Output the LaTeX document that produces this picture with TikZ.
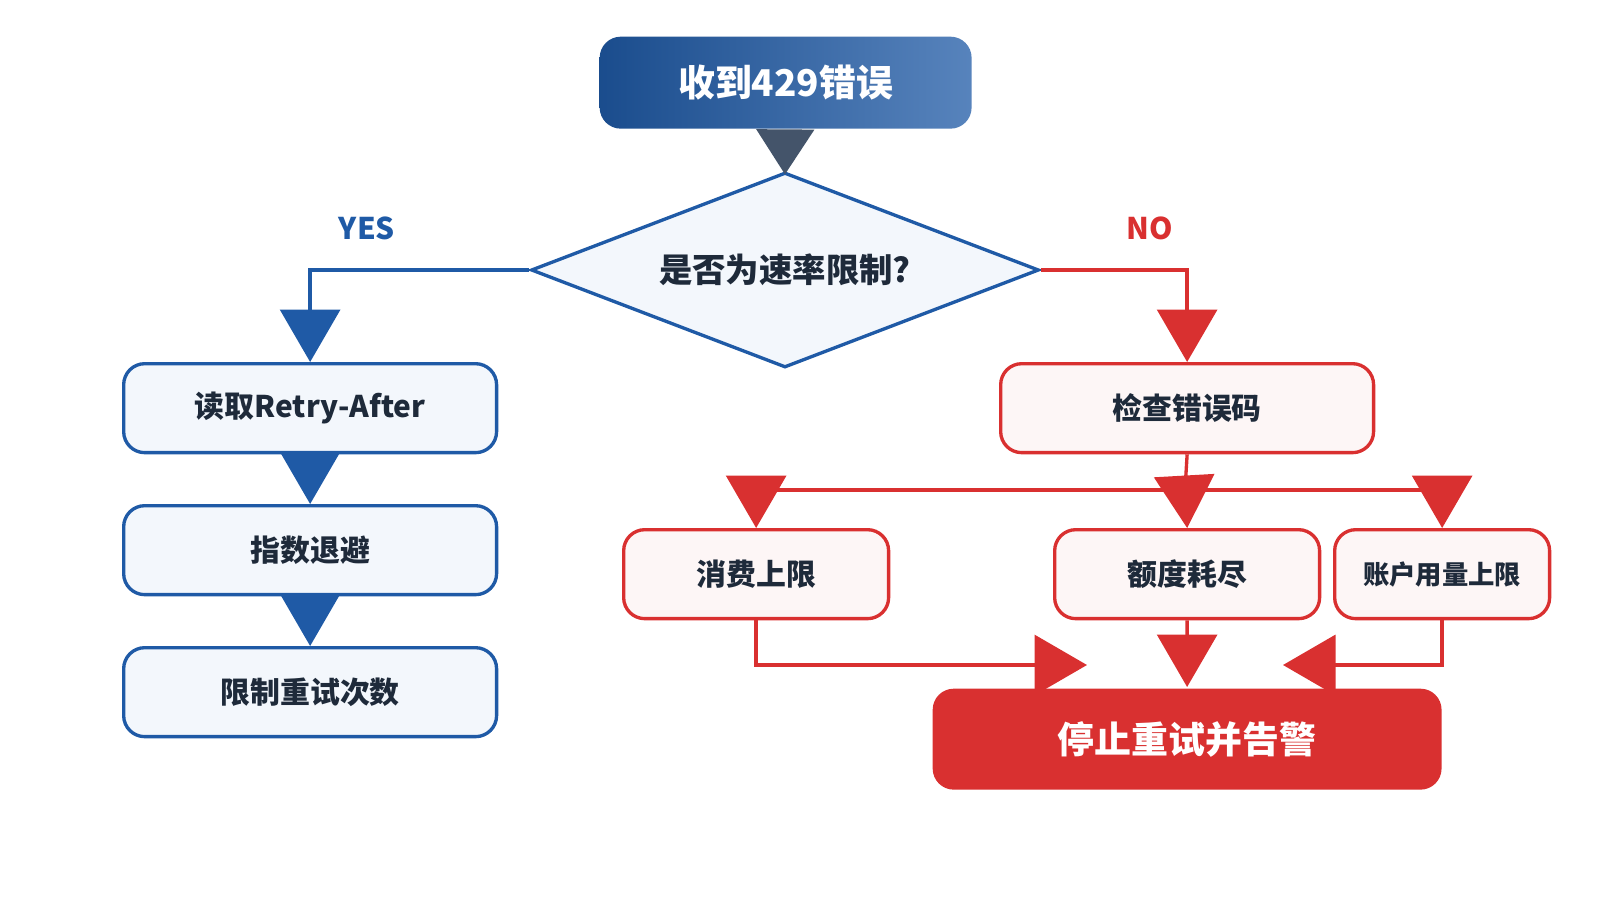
\documentclass[tikz,border=0pt]{standalone}
\usepackage{fontspec}
\setmainfont{Noto Sans CJK SC}
\usetikzlibrary{arrows.meta,shapes.geometric}
\definecolor{bluedk}{HTML}{1F5AA6}
\definecolor{bluefill}{HTML}{F3F7FC}
\definecolor{reddk}{HTML}{D93030}
\definecolor{redfill}{HTML}{FDF6F6}
\definecolor{slate}{HTML}{44546A}
\definecolor{ink}{HTML}{1E2A3A}
\tikzset{
  box/.style={draw, line width=1.9pt, rounded corners=12pt, anchor=north west, font=\bfseries\fontsize{17}{20}\selectfont, text=ink},
  bluebox/.style={box, draw=bluedk, fill=bluefill},
  redbox/.style={box, draw=reddk, fill=redfill},
  bline/.style={draw=bluedk, line width=1.9pt, -{Triangle[width=1.2cm,length=1.05cm]}},
  rline/.style={draw=reddk, line width=1.9pt, -{Triangle[width=1.2cm,length=1.05cm]}},
}
\begin{document}
\begin{tikzpicture}[x=0.02cm,y=-0.02cm]
    \useasboundingbox (0,0) rectangle (1600,900);
    %% top and decision
    \node[box, draw=none, left color=bluedk!85!black, right color=bluedk!75!white, text=white,
          font=\bfseries\fontsize{21}{24}\selectfont, minimum width=7.44cm, minimum height=1.84cm] (start) at (598,35) {收到429错误};
    \node[diamond, draw=bluedk, fill=bluefill, line width=1.9pt, aspect=2.6, inner sep=0pt,
          minimum width=10.16cm, minimum height=3.9cm, font=\bfseries\fontsize{19}{22}\selectfont, text=ink] (dec) at (785,270) {是否为速率限制?};
    \draw[draw=slate, line width=1.9pt, -{Triangle[width=1.15cm,length=0.9cm]}, shorten >=-2pt] (start) -- (dec.north);
    \node[text=bluedk, font=\bfseries\fontsize{17}{19}\selectfont] (yes) at (367,228) {YES};
    \node[text=reddk, font=\bfseries\fontsize{17}{19}\selectfont] (no) at (1150,228) {NO};
    %% left branch
    \node[bluebox, minimum width=7.46cm, minimum height=1.78cm] (read) at (122,362) {读取Retry-After};
    \node[bluebox, minimum width=7.46cm, minimum height=1.78cm] (back) at (122,504) {指数退避};
    \node[bluebox, minimum width=7.46cm, minimum height=1.78cm] (lim) at (122,646) {限制重试次数};
    \draw[bline] (dec.west) -| (read.north);
    \draw[bline] (read) -- (back);
    \draw[bline] (back) -- (lim);
    %% right branch
    \node[redbox, minimum width=7.46cm, minimum height=1.78cm] (check) at (999,362) {检查错误码};
    \node[redbox, minimum width=5.3cm, minimum height=1.78cm] (spend) at (622,528) {消费上限};
    \node[redbox, minimum width=5.3cm, minimum height=1.78cm] (quota) at (1053,528) {额度耗尽};
    \node[redbox, minimum width=4.3cm, minimum height=1.78cm, font=\bfseries\fontsize{15}{18}\selectfont] (acct) at (1333,528) {账户用量上限};
    \node[box, draw=none, fill=reddk, text=white, font=\bfseries\fontsize{21}{24}\selectfont,
          minimum width=10.18cm, minimum height=2.02cm] (stop) at (931,687) {停止重试并告警};
    \draw[rline] (dec.east) -| (check.north);
    \coordinate (split) at (1185,490);
    \draw[draw=reddk, line width=1.9pt] (check.south) -- (split);
    \draw[rline] (split) -| (spend.north);
    \draw[rline] (split) -- (quota.north);
    \draw[rline] (split) -| (acct.north);
    \coordinate (inl) at (1087,665);
    \coordinate (inr) at (1283,665);
    \draw[rline] (spend.south) |- (inl);
    \draw[rline] (quota.south) -- (stop.north);
    \draw[rline] (acct.south) |- (inr);
\end{tikzpicture}
\end{document}
